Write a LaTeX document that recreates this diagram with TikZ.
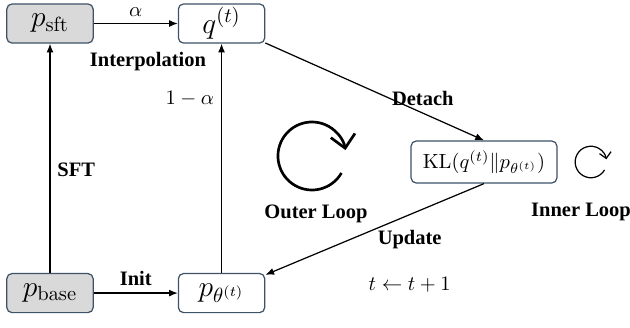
\documentclass[tikz,border=0pt]{standalone}
\usepackage[no-math]{fontspec}
\setmainfont{Liberation Serif}
\usetikzlibrary{positioning,arrows.meta}
\definecolor{boxedge}{HTML}{3E5268}
\definecolor{boxgray}{HTML}{D9D9D9}

\begin{document}
\begin{tikzpicture}[node distance=1.44cm,>={Latex[length=1.5mm,width=1.2mm]},line width=0.6pt,
  dist/.style={draw=boxedge,rounded corners=2.5pt,minimum width=1.48cm,minimum height=0.67cm,font=\Large,inner sep=1pt},
  fixed/.style={dist,fill=boxgray},
  tag/.style={font=\bfseries}]
  \useasboundingbox (0,0) rectangle (10.8,-5.62);
  % Top row
  \node[fixed] (psft) at (0.857,-0.403) {$p_{\mathrm{sft}}$};
  \node[dist] (q) [right=of psft] {$q^{(t)}$};
  % Bottom row
  \node[fixed] (pbase) [below=3.93cm of psft] {$p_{\mathrm{base}}$};
  \node[dist] (ptheta) [right=of pbase] {$p_{\theta^{(t)}}$};
  % Objective
  \node[dist,minimum width=2.5cm,minimum height=0.72cm,font=\normalsize] (kl) at (8.297,-2.777) {$\mathrm{KL}(q^{(t)}\|p_{\theta^{(t)}})$};

  \draw[->] (psft) -- node[above] {$\alpha$} (q);
  \node[tag] (interp) at (2.537,-1.063) {Interpolation};
  \draw[->] (pbase) -- node[pos=0.45,right,tag] {SFT} (psft);
  \draw[->] (ptheta) -- node[pos=0.76,left] {$1-\alpha$} (q);
  \draw[->] (pbase) -- node[above,tag] {Init} (ptheta);
  \draw[->] (q) -- node[pos=0.72,above,tag] {Detach} (kl.north);
  \draw[->] (kl.south) -- node[pos=0.34,below=4pt,tag] (update) {Update} (ptheta);
  \node (tstep) [below=0.24cm of update] {$t\leftarrow t+1$};

  % Loops
  \coordinate (outer) at (5.348,-2.674);
  \draw[line width=1.3pt,-{Straight Barb[length=2.2mm,width=4.2mm]}]
    (outer) ++(-30:0.583) arc[start angle=-30,end angle=-350,radius=0.583];
  \node[tag] (outerlbl) at (5.417,-3.668) {Outer Loop};
  \coordinate (inner) at (10.13,-2.777);
  \draw[-{Straight Barb[length=1mm,width=2mm]}]
    (inner) ++(-30:0.27) arc[start angle=-30,end angle=-350,radius=0.27];
  \node[tag] (innerlbl) at (9.96,-3.634) {Inner Loop};
\end{tikzpicture}
\end{document}
